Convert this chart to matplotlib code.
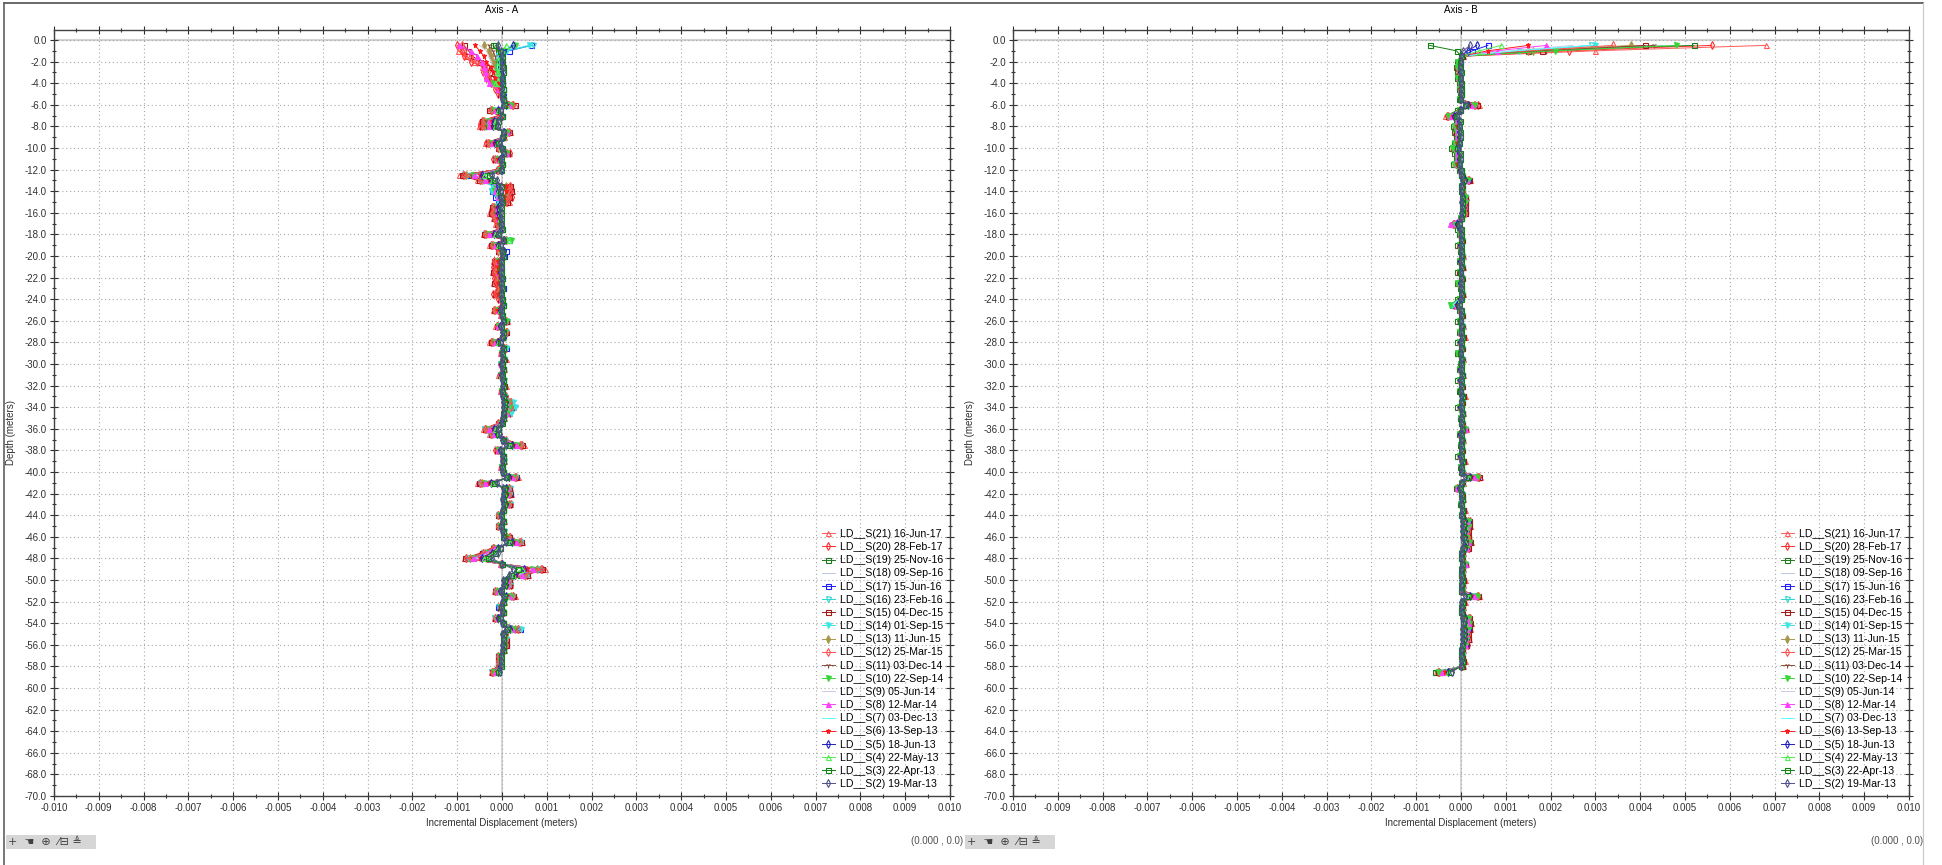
"""
Inclinometer incremental displacement profiles, Axis A and Axis B,
20 readings LD__S(2) .. LD__S(21). Output: out.png
"""
import matplotlib
matplotlib.use("Agg")
import matplotlib.pyplot as plt
import numpy as np
from matplotlib.lines import Line2D
from matplotlib.patches import Rectangle
from matplotlib.ticker import MultipleLocator, FuncFormatter

plt.rcParams["font.family"] = ["Liberation Sans", "DejaVu Sans"]

# probe readings every 0.5 m from -0.5 m to -58.5 m
DEPTH_STEP = 0.5
N_READINGS = 117
depth = -DEPTH_STEP * np.arange(1, N_READINGS + 1)

LABELS = [
    "LD__S(21) 16-Jun-17", "LD__S(20) 28-Feb-17", "LD__S(19) 25-Nov-16",
    "LD__S(18) 09-Sep-16", "LD__S(17) 15-Jun-16", "LD__S(16) 23-Feb-16",
    "LD__S(15) 04-Dec-15", "LD__S(14) 01-Sep-15", "LD__S(13) 11-Jun-15",
    "LD__S(12) 25-Mar-15", "LD__S(11) 03-Dec-14", "LD__S(10) 22-Sep-14",
    "LD__S(9) 05-Jun-14", "LD__S(8) 12-Mar-14", "LD__S(7) 03-Dec-13",
    "LD__S(6) 13-Sep-13", "LD__S(5) 18-Jun-13", "LD__S(4) 22-May-13",
    "LD__S(3) 22-Apr-13", "LD__S(2) 19-Mar-13",
]

# ---------- Axis A, displacement in 1e-5 m (hundredths of mm) ----------
A_S21 = [-95, -98, -80, -62, -45, -38, -30, -22, -10, -5,
         5, 30, -30, -8, -50, -52, 18, 5, -38, -10,
         15, -18, -5, -10, -95, -55, 20, 22, 18, 15,
         -25, -28, -20, -15, -5, -42, 5, -28, -10, 5,
         -20, -18, -22, -15, -20, -12, -18, -5, 0, -20,
         -5, 12, -15, 10, 0, -28, 5, -5, 8, -3,
         5, -8, 3, 8, -5, 5, 22, 25, 15, 5,
         -10, -42, -28, 5, 48, -12, 0, 5, -5, 3,
         35, -55, 18, 20, 5, 18, 0, -10, 5, -8,
         5, 15, 45, -22, -48, -85, -5, 95, 58, 18,
         18, -18, 28, 5, -5, 3, -18, 5, 38, 5,
         10, 8, 5, -10, -8, -12, -25]
A_S20 = [-100, -90, -85, -70, -40, -42, -35, -25, -15, -8,
         3, 25, -25, -5, -45, -48, 15, 3, -35, -8,
         18, -20, -3, -12, -88, -50, 18, 20, 22, 12,
         -22, -25, -18, -12, -8, -40, 8, -25, -8, 3,
         -18, -20, -20, -18, -15, -10, -20, -8, 3, -18,
         -3, 10, -12, 12, 3, -25, 8, -3, 5, -5,
         3, -5, 5, 5, -3, 8, 20, 22, 18, 3,
         -8, -38, -25, 8, 45, -15, 3, 3, -3, 5,
         32, -50, 15, 18, 3, 20, 3, -8, 3, -10,
         3, 18, 42, -20, -42, -80, -3, 90, 55, 15,
         20, -15, 25, 3, -8, 5, -15, 3, 35, 8,
         8, 10, 3, -8, -10, -10, -22]
A_S19 = [-20, -10, -5, -3, 0, 2, -2, 0, 3, 0,
         2, 15, -15, 0, -30, -35, 8, 0, -25, -3,
         8, -10, 0, -5, -70, -40, -15, -20, -10, -5,
         -15, -12, -10, -5, 0, -30, 15, -15, -3, 5,
         -5, -3, -5, 0, -3, 2, -5, 0, 3, -10,
         0, 8, -10, 5, 2, -15, 5, 0, 3, -2,
         2, -3, 2, 3, 0, 3, 12, 15, 8, 2,
         -3, -30, -20, 3, 30, -10, 2, 2, 0, 3,
         25, -40, 12, 10, 2, 12, 2, -5, 2, -5,
         2, 10, 30, -15, -35, -65, 0, 70, 40, 10,
         12, -10, 18, 2, -5, 3, -12, 2, 25, 5,
         5, 5, 2, -5, -5, -8, -20]
A_S18 = [40, 5, -10, -15, -20, -15, -10, -5, -3, 0,
         3, 20, -20, -3, -35, -30, 10, 2, -25, -5,
         10, -12, -2, -5, -75, -45, -20, -18, -12, -8,
         -15, -15, -12, -8, -3, -32, 12, -18, -5, 3,
         -8, -5, -8, -3, -5, 0, -8, -3, 2, -12,
         -2, 8, -8, 8, 2, -18, 5, -2, 5, -3,
         3, -3, 3, 3, -2, 3, 15, 18, 10, 3,
         -5, -35, -22, 5, 35, -8, 2, 3, -2, 2,
         28, -45, 12, 12, 3, 15, 2, -5, 3, -5,
         3, 12, 35, -15, -38, -72, -2, 78, 48, 12,
         12, -12, 20, 3, -5, 2, -12, 3, 30, 5,
         5, 5, 3, -5, -5, -8, -20]
A_S17 = [65, 15, 0, -5, -8, -5, -3, 0, 2, 3,
         3, 18, -22, 0, -35, -38, 12, 3, -28, -3,
         12, -12, 0, -5, -80, -45, -18, -22, -15, -10,
         -18, -20, -15, -10, -3, -35, 15, -20, 10, 5,
         -8, -8, -10, -3, -8, 2, -10, -2, 3, -12,
         -2, 10, -10, 8, 3, -18, 10, -3, 5, -3,
         3, -5, 3, 5, -2, 5, 15, 18, 12, 3,
         -5, -35, -25, 5, 38, -10, 3, 3, -3, 3,
         30, -48, 15, 15, 3, 15, 3, -8, 3, -8,
         3, 15, 38, -18, -40, -75, -2, 82, 50, 15,
         15, -12, 22, 3, -8, 3, -15, 3, 40, 5,
         8, 8, 3, -8, -8, -10, -22]
A_S16 = [70, 10, -5, -10, -12, -10, -5, -3, 0, 2,
         2, 15, -25, -3, -40, -35, 10, 2, -30, -5,
         10, -15, -2, -8, -85, -48, -22, -25, -12, -8,
         -20, -18, -12, -8, -5, -38, 12, -22, -5, 3,
         -10, -10, -8, -5, -10, 0, -8, -3, 2, -15,
         -3, 12, -8, 10, 2, -20, 8, -3, 5, -5,
         3, -5, 5, 5, -3, 5, 20, 28, 18, 5,
         -5, -40, -28, 5, 42, -12, 3, 5, -3, 3,
         32, -50, 18, 18, 3, 18, 3, -10, 3, -8,
         5, 15, 42, -20, -42, -78, -3, 85, 55, 18,
         18, -15, 25, 5, -8, 3, -18, 3, 35, 5,
         10, 8, 5, -8, -8, -10, -25]
A_S15 = [-85, -75, -65, -50, -35, -30, -25, -18, -10, -5,
         2, 28, -28, -5, -45, -45, 15, 3, -32, -8,
         12, -15, -3, -10, -90, -52, 18, 20, 15, 12,
         -22, -25, -18, -12, -5, -40, 5, -25, -8, 3,
         -18, -15, -20, -12, -18, -10, -15, -5, 0, -18,
         -3, 10, -12, 8, 0, -25, 5, -3, 5, -3,
         3, -5, 3, 5, -3, 5, 18, 20, 12, 3,
         -8, -38, -25, 5, 45, -12, 2, 3, -3, 3,
         32, -52, 15, 18, 3, 15, 2, -8, 3, -8,
         3, 15, 42, -20, -45, -82, -3, 90, 55, 15,
         15, -15, 25, 3, -5, 3, -15, 3, 35, 5,
         8, 8, 3, -8, -8, -10, -22]
A_S14 = [60, 8, -8, -12, -15, -10, -5, -3, 0, 2,
         2, 18, -20, -2, -35, -38, 12, 2, -28, -3,
         10, -12, 0, -5, -78, -45, -20, -22, -12, -8,
         -18, -15, -12, -8, -3, -35, 12, -20, -3, 3,
         -8, -8, -8, -3, -8, 0, -8, -2, 2, -12,
         -2, 10, -8, 8, 2, -18, 8, -2, 5, -3,
         3, -3, 3, 3, -2, 5, 25, 30, 20, 5,
         -5, -38, -25, 5, 40, -10, 2, 3, -2, 3,
         30, -48, 15, 15, 3, 15, 3, -8, 3, -5,
         3, 12, 40, -18, -40, -75, -2, 80, 52, 15,
         15, -12, 22, 3, -5, 3, -15, 3, 42, 5,
         8, 5, 3, -5, -5, -8, -20]
A_S13 = [-40, -30, -25, -20, -15, -10, -8, -5, -3, 0,
         2, 22, -22, -3, -40, -40, 12, 2, -30, -5,
         10, -12, -2, -8, -80, -45, 10, 12, 8, 5,
         -18, -20, -15, -10, -3, -35, 8, -20, -5, 3,
         -12, -10, -12, -8, -10, -5, -10, -3, 2, -15,
         -2, 8, -10, 8, 2, -20, 5, -3, 5, -3,
         3, -5, 3, 5, -2, 3, 15, 18, 10, 3,
         -5, -35, -22, 3, 40, -10, 2, 3, -2, 3,
         28, -45, 12, 15, 3, 15, 2, -8, 3, -8,
         3, 12, 38, -18, -38, -72, -2, 78, 48, 12,
         12, -12, 20, 3, -5, 3, -12, 3, 30, 5,
         5, 5, 3, -5, -5, -8, -20]
A_S12 = [-90, -85, -70, -55, -38, -32, -28, -20, -12, -5,
         3, 25, -25, -5, -42, -45, 15, 3, -32, -8,
         12, -15, -3, -10, -85, -50, 18, 18, 15, 10,
         -20, -22, -18, -12, -5, -38, 5, -22, -8, 3,
         -18, -15, -18, -12, -15, -8, -15, -5, 0, -18,
         -3, 10, -12, 8, 0, -22, 5, -3, 5, -3,
         3, -5, 3, 5, -3, 5, 18, 20, 12, 3,
         -8, -38, -25, 5, 42, -12, 2, 3, -3, 3,
         30, -50, 15, 15, 3, 15, 2, -8, 3, -8,
         3, 15, 40, -20, -42, -80, -3, 88, 52, 15,
         15, -15, 25, 3, -5, 3, -15, 3, 35, 5,
         8, 8, 3, -8, -8, -10, -22]
A_S11 = [-30, -20, -15, -12, -10, -8, -5, -3, 0, 2,
         2, 20, -20, -2, -35, -35, 10, 2, -25, -3,
         8, -10, 0, -5, -70, -40, 8, 10, 5, 3,
         -15, -15, -12, -8, -3, -30, 8, -18, -3, 3,
         -10, -8, -10, -5, -8, -3, -8, -2, 2, -12,
         -2, 8, -8, 5, 2, -18, 5, -2, 3, -2,
         2, -3, 2, 3, -2, 3, 12, 15, 8, 2,
         -3, -30, -20, 3, 35, -8, 2, 2, -2, 2,
         25, -40, 12, 12, 2, 12, 2, -5, 2, -5,
         2, 10, 35, -15, -35, -68, -2, 72, 45, 12,
         12, -10, 20, 2, -5, 2, -12, 2, 28, 3,
         5, 5, 2, -5, -5, -8, -18]
A_S10 = [30, 5, -5, -10, -12, -15, -8, -20, -5, 0,
         2, 18, -18, -2, -30, -32, 10, 2, -22, -3,
         8, -10, 0, -5, -65, -38, -15, -18, -10, -5,
         -12, -12, -10, -5, -3, -28, 20, -15, -3, 3,
         -8, -5, -8, -3, -5, 0, -5, -2, 2, -10,
         -2, 8, -8, 5, 2, -15, 5, -2, 3, -2,
         2, -3, 2, 3, -2, 3, 12, 15, 8, 2,
         -3, -28, -18, 3, 32, -8, 2, 2, -2, 2,
         22, -38, 10, 10, 2, 10, 2, -5, 2, -5,
         2, 10, 32, -12, -32, -62, -2, 68, 42, 10,
         10, -10, 18, 2, -3, 2, -10, 2, 25, 3,
         5, 5, 2, -5, -5, -5, -18]
A_S9 = [-50, -35, -30, -25, -20, -15, -10, -5, -3, 0,
        2, 15, -15, -2, -28, -30, 8, 2, -20, -3,
        8, -8, 0, -5, -60, -35, -10, -12, -8, -5,
        -12, -12, -10, -5, -2, -25, 5, -15, -3, 2,
        -8, -5, -8, -3, -5, -2, -5, -2, 2, -10,
        -2, 5, -8, 5, 2, -15, 3, -2, 3, -2,
        2, -3, 2, 3, -2, 3, 10, 12, 8, 2,
        -3, -25, -18, 3, 30, -8, 2, 2, -2, 2,
        22, -35, 10, 10, 2, 10, 2, -5, 2, -5,
        2, 8, 30, -12, -30, -60, -2, 65, 40, 10,
        10, -8, 15, 2, -3, 2, -10, 2, 22, 3,
        5, 3, 2, -3, -5, -5, -15]
A_S8 = [-95, -70, -55, -45, -40, -38, -35, -30, -10, -3,
        2, 15, -15, -2, -28, -30, 8, 2, -22, -3,
        8, -8, 0, -5, -62, -38, -12, -15, -8, -5,
        -12, -12, -10, -5, -2, -28, 5, -15, -3, 2,
        -8, -5, -8, -3, -5, -2, -5, -2, 2, -10,
        -2, 5, -8, 5, 2, -15, 3, -2, 3, -2,
        2, -3, 2, 3, -2, 3, 10, 12, 8, 2,
        -3, -28, -18, 3, 32, -8, 2, 2, -2, 2,
        22, -38, 10, 10, 2, 10, 2, -5, 2, -5,
        2, 10, 32, -15, -35, -65, -2, 70, 45, 10,
        10, -8, 15, 2, -3, 2, -10, 2, 22, 3,
        5, 3, 2, -3, -5, -5, -15]
A_S7 = [20, 5, -5, -8, -10, -8, -5, -3, 0, 0,
        2, 12, -12, -2, -22, -25, 8, 2, -18, -2,
        5, -8, 0, -3, -55, -30, -8, -10, -5, -3,
        -10, -10, -8, -5, -2, -22, 5, -12, -2, 2,
        -5, -5, -5, -2, -5, 0, -5, -2, 2, -8,
        -2, 5, -5, 3, 2, -12, 3, -2, 3, -2,
        2, -2, 2, 2, -2, 3, 12, 15, 10, 2,
        -2, -22, -15, 2, 28, -5, 2, 2, -2, 2,
        20, -32, 8, 8, 2, 8, 2, -3, 2, -3,
        2, 8, 28, -10, -28, -55, -2, 60, 38, 8,
        8, -8, 12, 2, -3, 2, -8, 2, 22, 3,
        3, 3, 2, -3, -3, -5, -12]
A_S6 = [-60, -50, -40, -35, -25, -20, -15, -10, -5, 0,
        2, 12, -12, -2, -22, -22, 5, 2, -18, -2,
        5, -8, 0, -3, -50, -28, 8, 10, 5, 3,
        -10, -10, -8, -5, -2, -20, 3, -12, -2, 2,
        -10, -8, -10, -5, -8, -3, -8, -2, 0, -10,
        -2, 5, -5, 3, 0, -12, 3, -2, 2, -2,
        2, -2, 2, 2, -2, 2, 8, 10, 5, 2,
        -2, -20, -12, 2, 25, -5, 2, 2, -2, 2,
        18, -28, 8, 8, 2, 8, 2, -3, 2, -3,
        2, 8, 25, -10, -25, -50, -2, 55, 32, 8,
        8, -5, 12, 2, -3, 2, -8, 2, 18, 3,
        3, 3, 2, -3, -3, -5, -12]
A_S5 = [25, 5, -3, -5, -5, -3, -2, 0, 0, 2,
        2, 10, -10, 0, -18, -20, 5, 2, -15, -2,
        5, -5, 0, -3, -45, -25, -8, -10, -5, -3,
        -8, -8, -5, -3, -2, -18, 5, -10, 5, 2,
        -3, -3, -5, -2, -3, 0, -3, 0, 2, -5,
        0, 5, -5, 3, 2, -10, 3, 0, 2, -2,
        2, -2, 2, 2, 0, 2, 8, 10, 5, 2,
        -2, -18, -12, 2, 22, -5, 2, 2, 0, 2,
        15, -25, 8, 8, 2, 8, 2, -3, 2, -3,
        2, 5, 22, -8, -22, -45, 0, 50, 30, 8,
        8, -5, 10, 2, -2, 2, -8, 2, 18, 2,
        3, 3, 2, -2, -3, -5, -10]
A_S4 = [10, 0, -3, -5, -5, -8, -3, -15, 0, 2,
        2, 8, -8, 0, -15, -15, 5, 2, -12, -2,
        3, -5, 0, -2, -40, -22, -5, -8, -3, -2,
        -5, -5, -5, -2, 0, -15, 15, -8, -2, 2,
        -3, -2, -3, -2, -3, 0, -3, 0, 2, -5,
        0, 3, -3, 2, 2, -8, 2, 0, 2, 0,
        2, -2, 2, 2, 0, 2, 5, 8, 5, 2,
        -2, -15, -10, 2, 18, -3, 2, 2, 0, 2,
        12, -22, 5, 5, 2, 5, 2, -2, 2, -2,
        2, 5, 18, -8, -20, -40, 0, 45, 25, 5,
        5, -5, 8, 2, -2, 2, -5, 2, 15, 2,
        3, 2, 2, -2, -2, -3, -10]
A_S3 = [-15, -5, 0, 0, 2, 2, 0, 0, 2, 0,
        2, 5, -5, 0, -10, -12, 3, 0, -8, 0,
        2, -3, 0, -2, -30, -18, -3, -5, -2, 0,
        -3, -3, -3, -2, 0, -10, 3, -5, 0, 2,
        -2, -2, -2, 0, -2, 0, -2, 0, 2, -3,
        0, 2, -2, 2, 0, -5, 2, 0, 2, 0,
        2, 0, 2, 2, 0, 2, 5, 5, 3, 2,
        0, -10, -8, 2, 15, -2, 2, 2, 0, 2,
        10, -18, 5, 5, 2, 5, 2, -2, 2, -2,
        2, 3, 15, -5, -15, -32, 0, 35, 20, 5,
        5, -3, 5, 2, -2, 2, -5, 2, 12, 2,
        2, 2, 2, -2, -2, -3, -8]
A_S2 = [-10, -3, 0, 0, 0, 2, 0, 0, 0, 0,
        0, 3, -3, 0, -8, -8, 2, 0, -5, 0,
        2, -2, 0, 0, -22, -12, -2, -3, -2, 0,
        -2, -2, -2, 0, 0, -8, 2, -3, 0, 0,
        -2, 0, -2, 0, -2, 0, -2, 0, 0, -2,
        0, 2, -2, 0, 0, -3, 0, 0, 0, 0,
        0, 0, 0, 0, 0, 0, 3, 3, 2, 0,
        0, -8, -5, 0, 10, -2, 0, 0, 0, 0,
        8, -12, 3, 3, 0, 3, 0, -2, 0, -2,
        0, 2, 10, -3, -10, -22, 0, 25, 15, 3,
        3, -2, 3, 0, -2, 0, -3, 0, 8, 0,
        2, 0, 0, -2, -2, -2, -5]

# ---------- Axis B, displacement in 1e-5 m ----------
B_S21 = [680, 300, 5, -8, -10, -5, -8, -3, -5, 0,
         -3, 40, -5, -35, -8, -15, -12, -10, -15, -20,
         -12, -10, -15, -3, 5, 20, 3, 5, 12, 10,
         8, 10, 0, -20, -5, -3, 3, -5, 0, 5,
         -3, 5, -5, 3, -8, 0, 5, -5, -18, -3,
         3, -5, 5, -3, 8, -5, 3, -8, 5, 0,
         -3, 5, -5, 3, -3, 8, 3, -5, 5, 0,
         3, 12, -3, 5, 0, 3, -5, 8, 0, 5,
         42, 5, -10, 3, 5, 0, 8, 3, 18, 20,
         15, 18, 22, 15, 5, 3, 12, 5, 3, 8,
         5, 3, 40, 8, 5, 3, 18, 22, 20, 15,
         18, 12, 5, 3, 8, 5, -55]
B_S20 = [560, 240, 3, -5, -8, -8, -5, -5, -3, -2,
         -2, 38, -3, -32, -10, -12, -15, -8, -12, -18,
         -10, -12, -12, -5, 3, 18, 5, 3, 10, 12,
         10, 8, 3, -18, -3, -5, 5, -3, 3, 3,
         -5, 3, -3, 5, -5, 3, 3, -3, -15, -5,
         5, -3, 3, -5, 5, -3, 5, -5, 3, 3,
         -5, 3, -3, 5, -5, 5, 5, -3, 3, 3,
         5, 10, -5, 3, 3, 5, -3, 5, 3, 3,
         40, 3, -8, 5, 3, 3, 5, 5, 20, 18,
         18, 15, 20, 18, 3, 5, 10, 3, 5, 5,
         3, 5, 38, 5, 3, 5, 20, 20, 18, 18,
         15, 15, 3, 5, 5, 3, -52]
B_S19 = [520, 150, 0, -10, -12, -8, -10, -5, -5, -3,
         -5, 30, -8, -30, -12, -18, -15, -12, -15, -22,
         -15, -12, -18, -5, 0, 15, 0, 3, 8, 8,
         5, 8, -3, -15, -8, -5, 0, -8, -3, 3,
         -5, 3, -8, 0, -8, -3, 3, -8, -20, -5,
         0, -8, 3, -5, 5, -8, 0, -10, 3, -3,
         -5, 3, -8, 0, -5, 5, 0, -8, 3, -3,
         0, 8, -5, 3, -3, 0, -8, 5, -3, 3,
         35, 3, -12, 0, 3, -3, 5, 0, 15, 18,
         12, 15, 18, 12, 3, 0, 8, 3, 0, 5,
         3, 0, 35, 5, 3, 0, 15, 18, 18, 12,
         15, 10, 3, 0, 5, 3, -58]
B_S18 = [450, 200, 3, -5, -8, -3, -5, -3, -3, 0,
         -3, 35, -5, -28, -8, -12, -12, -8, -10, -18,
         -10, -8, -12, -3, 3, 15, 3, 5, 10, 8,
         8, 8, 0, -15, -3, -3, 3, -5, 0, 3,
         -3, 3, -5, 3, -5, 0, 3, -5, -15, -3,
         3, -3, 3, -3, 5, -3, 3, -5, 3, 0,
         -3, 3, -3, 3, -3, 5, 3, -3, 3, 0,
         3, 10, -3, 3, 0, 3, -3, 5, 0, 3,
         38, 3, -8, 3, 3, 0, 5, 3, 15, 18,
         15, 15, 18, 15, 3, 3, 10, 3, 3, 5,
         3, 3, 35, 5, 3, 3, 15, 18, 15, 15,
         15, 10, 3, 3, 5, 3, -50]
B_S17 = [60, 25, 3, -3, -5, -3, -5, -3, 0, 0,
         -3, 30, -3, -25, -8, -10, -10, -8, -10, -15,
         -8, -8, -10, -3, 3, 15, 3, 3, 8, 8,
         5, 5, 0, -12, -3, -3, 3, -3, 0, 3,
         -3, 3, -3, 3, -3, 0, 3, -3, -12, -3,
         3, -3, 3, -3, 3, -3, 3, -5, 3, 0,
         -3, 3, -3, 3, -3, 3, 3, -3, 3, 0,
         3, 8, -3, 3, 0, 3, -3, 5, 0, 3,
         35, 3, -8, 3, 3, 0, 5, 3, 15, 15,
         12, 12, 15, 12, 3, 3, 8, 3, 3, 5,
         3, 3, 32, 5, 3, 3, 15, 15, 15, 12,
         12, 10, 3, 3, 3, 3, -45]
B_S16 = [290, 130, 0, -5, -8, -5, -5, -3, -3, 0,
         -3, 28, -5, -28, -10, -12, -12, -10, -12, -18,
         -10, -10, -12, -5, 0, 12, 0, 3, 8, 5,
         5, 5, -3, -15, -5, -3, 0, -5, -3, 3,
         -3, 0, -5, 0, -5, -3, 0, -5, -22, -3,
         0, -5, 3, -3, 3, -5, 0, -5, 3, -3,
         -3, 3, -5, 0, -3, 3, 0, -5, 3, -3,
         0, 8, -3, 3, -3, 0, -5, 3, -3, 3,
         32, 3, -10, 0, 3, -3, 3, 0, 12, 15,
         12, 12, 15, 12, 3, 0, 8, 3, 0, 3,
         3, 0, 30, 3, 3, 0, 12, 15, 15, 12,
         12, 8, 3, 0, 3, 3, -48]
B_S15 = [410, 180, 3, -5, -8, -5, -5, -3, -3, 0,
         -3, 35, -5, -30, -8, -12, -12, -10, -12, -18,
         -10, -10, -12, -3, 3, 18, 3, 3, 10, 10,
         8, 8, 0, -18, -3, -3, 3, -5, 0, 3,
         -3, 3, -5, 3, -5, 0, 3, -5, -15, -3,
         3, -3, 3, -3, 5, -3, 3, -5, 3, 0,
         -3, 3, -3, 3, -3, 5, 3, -3, 3, 0,
         3, 10, -3, 3, 0, 3, -3, 5, 0, 3,
         40, 3, -10, 3, 3, 0, 5, 3, 18, 18,
         15, 15, 20, 15, 3, 3, 10, 3, 3, 5,
         3, 3, 38, 5, 3, 3, 18, 20, 18, 15,
         15, 12, 3, 3, 5, 3, -52]
B_S14 = [300, 130, 0, -5, -5, -3, -5, -3, -3, 0,
         -3, 28, -3, -25, -8, -10, -10, -8, -10, -15,
         -8, -8, -10, -3, 3, 12, 3, 3, 8, 8,
         5, 5, 0, -12, -3, -3, 3, -3, 0, 3,
         -3, 3, -3, 3, -3, 0, 3, -3, -20, -3,
         3, -3, 3, -3, 3, -3, 3, -3, 3, 0,
         -3, 3, -3, 3, -3, 3, 3, -3, 3, 0,
         3, 8, -3, 3, 0, 3, -3, 3, 0, 3,
         35, 3, -8, 3, 3, 0, 3, 3, 15, 15,
         12, 12, 15, 12, 3, 3, 8, 3, 3, 3,
         3, 3, 32, 3, 3, 3, 15, 15, 12, 12,
         12, 8, 3, 3, 3, 3, -45]
B_S13 = [380, 160, 3, -5, -8, -5, -5, -3, -3, 0,
         -3, 30, -3, -28, -8, -12, -10, -8, -12, -15,
         -8, -10, -10, -3, 3, 15, 3, 3, 10, 8,
         5, 8, 0, -15, -3, -3, 3, -5, 0, 3,
         -3, 3, -3, 3, -5, 0, 3, -3, -12, -3,
         3, -3, 3, -3, 3, -3, 3, -5, 3, 0,
         -3, 3, -3, 3, -3, 3, 3, -3, 3, 0,
         3, 10, -3, 3, 0, 3, -3, 5, 0, 3,
         35, 3, -8, 3, 3, 0, 5, 3, 15, 15,
         12, 15, 18, 12, 3, 3, 8, 3, 3, 5,
         3, 3, 35, 5, 3, 3, 15, 18, 15, 12,
         12, 10, 3, 3, 3, 3, -48]
B_S12 = [340, 150, 3, -3, -5, -3, -5, -3, -3, 0,
         -3, 32, -3, -28, -8, -10, -10, -8, -10, -15,
         -8, -8, -10, -3, 3, 15, 3, 5, 10, 8,
         8, 8, 0, -15, -3, -3, 3, -3, 0, 3,
         -3, 3, -3, 3, -3, 0, 3, -3, -12, -3,
         3, -3, 3, -3, 5, -3, 3, -3, 3, 0,
         -3, 3, -3, 3, -3, 5, 3, -3, 3, 0,
         3, 10, -3, 3, 0, 3, -3, 5, 0, 3,
         38, 3, -8, 3, 3, 0, 5, 3, 15, 18,
         15, 15, 18, 15, 3, 3, 10, 3, 3, 5,
         3, 3, 38, 5, 3, 3, 18, 18, 15, 15,
         15, 10, 3, 3, 5, 3, -50]
B_S11 = [430, 190, 0, -5, -8, -5, -8, -3, -5, -3,
         -5, 25, -5, -25, -10, -12, -12, -10, -12, -18,
         -10, -10, -12, -5, 0, 12, 0, 3, 8, 5,
         5, 5, -3, -12, -5, -3, 0, -5, -3, 0,
         -5, 0, -5, 0, -5, -3, 0, -5, -12, -5,
         0, -5, 0, -5, 3, -5, 0, -5, 0, -3,
         -5, 0, -5, 0, -5, 3, 0, -5, 0, -3,
         0, 5, -5, 0, -3, 0, -5, 3, -3, 0,
         30, 0, -10, 0, 0, -3, 3, 0, 12, 12,
         10, 12, 15, 10, 0, 0, 5, 0, 0, 3,
         0, 0, 30, 3, 0, 0, 12, 15, 12, 10,
         10, 8, 0, 0, 3, 0, -45]
B_S10 = [480, 210, 0, -8, -10, -5, -8, -5, -5, -3,
         -5, 28, -5, -30, -10, -15, -12, -10, -15, -20,
         -12, -10, -15, -5, 0, 15, 0, 3, 8, 8,
         5, 5, -3, -15, -5, -5, 0, -5, -3, 0,
         -5, 0, -5, 0, -8, -3, 0, -5, -25, -5,
         0, -5, 0, -5, 3, -5, 0, -8, 0, -3,
         -5, 0, -5, 0, -5, 3, 0, -5, 0, -3,
         0, 8, -5, 0, -3, 0, -5, 3, -3, 0,
         35, 0, -10, 0, 0, -3, 3, 0, 15, 15,
         12, 12, 18, 12, 0, 0, 8, 0, 0, 3,
         0, 0, 35, 3, 0, 0, 15, 18, 15, 12,
         12, 10, 0, 0, 3, 0, -52]
B_S9 = [250, 110, 0, -3, -5, -3, -3, -3, -3, 0,
        -3, 22, -3, -22, -5, -10, -8, -8, -10, -12,
        -8, -8, -10, -3, 0, 10, 0, 3, 5, 5,
        5, 5, 0, -12, -3, -3, 0, -3, 0, 3,
        -3, 0, -3, 0, -3, 0, 0, -3, -10, -3,
        0, -3, 3, -3, 3, -3, 0, -3, 3, 0,
        -3, 3, -3, 0, -3, 3, 0, -3, 3, 0,
        0, 5, -3, 3, 0, 0, -3, 3, 0, 3,
        28, 3, -5, 0, 3, 0, 3, 0, 10, 12,
        10, 10, 12, 10, 3, 0, 5, 3, 0, 3,
        3, 0, 28, 3, 3, 0, 10, 12, 12, 10,
        10, 8, 3, 0, 3, 0, -40]
B_S8 = [190, 80, 0, -3, -5, -3, -5, -3, -3, 0,
        -3, 22, -3, -22, -8, -10, -10, -8, -10, -12,
        -8, -8, -10, -3, 0, 12, 0, 3, 5, 5,
        5, 5, 0, -25, -3, -3, 0, -3, 0, 3,
        -3, 0, -3, 0, -3, 0, 0, -3, -12, -3,
        0, -3, 3, -3, 3, -3, 0, -3, 3, 0,
        -3, 3, -3, 0, -3, 3, 0, -3, 3, 0,
        0, 8, -3, 3, 0, 0, -3, 3, 0, 3,
        30, 3, -8, 0, 3, 0, 3, 0, 12, 12,
        10, 10, 15, 12, 3, 0, 8, 3, 0, 3,
        3, 0, 30, 3, 3, 0, 12, 15, 12, 10,
        10, 8, 3, 0, 3, 0, -42]
B_S7 = [290, 120, 0, -3, -5, -3, -3, -3, -3, 0,
        -3, 20, -3, -20, -5, -8, -8, -5, -8, -12,
        -5, -5, -8, -3, 0, 10, 0, 3, 5, 5,
        3, 5, 0, -10, -3, -3, 0, -3, 0, 3,
        -3, 0, -3, 0, -3, 0, 0, -3, -18, -3,
        0, -3, 3, -3, 3, -3, 0, -3, 3, 0,
        -3, 3, -3, 0, -3, 3, 0, -3, 3, 0,
        0, 5, -3, 3, 0, 0, -3, 3, 0, 3,
        25, 3, -5, 0, 3, 0, 3, 0, 10, 10,
        8, 10, 12, 8, 3, 0, 5, 3, 0, 3,
        3, 0, 25, 3, 3, 0, 10, 12, 10, 8,
        8, 5, 3, 0, 3, 0, -38]
B_S6 = [150, 60, 0, -3, -3, -3, -3, 0, -3, 0,
        -3, 18, -3, -18, -5, -8, -5, -5, -8, -10,
        -5, -5, -8, -3, 0, 8, 0, 3, 5, 3,
        3, 3, 0, -10, -3, 0, 0, -3, 0, 3,
        -3, 0, -3, 0, -3, 0, 0, -3, -8, -3,
        0, -3, 3, 0, 3, -3, 0, -3, 3, 0,
        -3, 3, -3, 0, -3, 3, 0, -3, 3, 0,
        0, 5, -3, 3, 0, 0, -3, 3, 0, 3,
        22, 3, -5, 0, 3, 0, 3, 0, 8, 10,
        8, 8, 10, 8, 3, 0, 5, 3, 0, 3,
        3, 0, 22, 3, 3, 0, 8, 10, 10, 8,
        8, 5, 3, 0, 3, 0, -35]
B_S5 = [35, 15, 0, -3, -3, -3, -3, 0, 0, 0,
        -3, 15, -3, -15, -5, -5, -5, -5, -5, -10,
        -5, -5, -5, -3, 0, 8, 0, 3, 3, 3,
        3, 3, 0, -8, -3, 0, 0, -3, 0, 3,
        -3, 0, -3, 0, -3, 0, 0, -3, -8, 0,
        0, -3, 3, 0, 3, -3, 0, -3, 3, 0,
        -3, 3, -3, 0, -3, 3, 0, -3, 3, 0,
        0, 5, -3, 3, 0, 0, -3, 3, 0, 3,
        20, 3, -5, 0, 3, 0, 3, 0, 8, 8,
        8, 8, 10, 8, 3, 0, 5, 3, 0, 3,
        3, 0, 20, 3, 3, 0, 8, 8, 8, 8,
        8, 5, 3, 0, 3, 0, -30]
B_S4 = [90, 40, 0, -3, -3, 0, -3, 0, 0, 0,
        -3, 12, -3, -12, -3, -5, -5, -3, -5, -8,
        -3, -3, -5, 0, 0, 5, 0, 3, 3, 3,
        3, 3, 0, -5, 0, 0, 0, 0, 0, 3,
        0, 0, -3, 0, 0, 0, 0, -3, -5, 0,
        0, -3, 3, 0, 3, 0, 0, -3, 3, 0,
        0, 3, 0, 0, -3, 3, 0, 0, 3, 0,
        0, 3, 0, 3, 0, 0, 0, 3, 0, 3,
        18, 3, -3, 0, 3, 0, 3, 0, 5, 8,
        5, 5, 8, 5, 3, 0, 3, 3, 0, 3,
        3, 0, 18, 3, 3, 0, 5, 8, 5, 5,
        5, 3, 3, 0, 3, 0, -28]
B_S3 = [-70, -10, 0, -3, -3, 0, -3, 0, 0, 0,
        -3, 10, -3, -12, -3, -5, -3, -3, -5, -8,
        -3, -3, -5, 0, 0, 5, 0, 0, 3, 3,
        3, 3, 0, -5, 0, 0, 0, 0, 0, 0,
        0, 0, -3, 0, 0, 0, 0, 0, -5, 0,
        0, -3, 0, 0, 3, 0, 0, -3, 0, 0,
        0, 3, 0, 0, -3, 3, 0, 0, 3, 0,
        0, 3, 0, 0, 0, 0, 0, 3, 0, 0,
        15, 0, -3, 0, 3, 0, 3, 0, 5, 5,
        5, 5, 8, 5, 0, 0, 3, 0, 0, 3,
        0, 0, 15, 3, 0, 0, 5, 5, 5, 5,
        5, 3, 0, 0, 3, 0, -25]
B_S2 = [20, 5, 0, 0, -3, 0, 0, 0, 0, 0,
        0, 8, 0, -8, -3, -3, -3, 0, -3, -5,
        -3, 0, -3, 0, 0, 3, 0, 0, 3, 0,
        3, 0, 0, -3, 0, 0, 0, 0, 0, 0,
        0, 0, 0, 0, 0, 0, 0, 0, -3, 0,
        0, 0, 0, 0, 3, 0, 0, 0, 0, 0,
        0, 3, 0, 0, 0, 0, 0, 0, 3, 0,
        0, 3, 0, 0, 0, 0, 0, 0, 0, 0,
        10, 0, -3, 0, 0, 0, 3, 0, 3, 3,
        3, 3, 5, 3, 0, 0, 3, 0, 0, 0,
        0, 0, 10, 0, 0, 0, 3, 5, 3, 3,
        3, 3, 0, 0, 0, 0, -20]

AXIS_A = [A_S21, A_S20, A_S19, A_S18, A_S17, A_S16, A_S15, A_S14, A_S13, A_S12,
          A_S11, A_S10, A_S9, A_S8, A_S7, A_S6, A_S5, A_S4, A_S3, A_S2]
AXIS_B = [B_S21, B_S20, B_S19, B_S18, B_S17, B_S16, B_S15, B_S14, B_S13, B_S12,
          B_S11, B_S10, B_S9, B_S8, B_S7, B_S6, B_S5, B_S4, B_S3, B_S2]

# (colour, marker, filled) per reading, same order as LABELS
STYLES = [
    ("#ff5a5a", "^", False), ("#ff2d2d", "d", False), ("#1e7a1e", "s", False),
    ("#b8c8e0", "", False), ("#1c1cff", "s", False), ("#2cd4d4", "v", False),
    ("#a01818", "s", False), ("#3ce6e6", "v", True), ("#a8964a", "d", True),
    ("#ff5050", "d", False), ("#8a4a3a", "1", False), ("#36d636", "v", True),
    ("#d0c8ec", "", False), ("#ff40ff", "^", True), ("#60ffff", "", False),
    ("#ff1a1a", "*", True), ("#2020c0", "d", False), ("#50f050", "^", False),
    ("#108010", "s", False), ("#50508a", "d", False),
]

W, H = 1942, 865
fig = plt.figure(figsize=(W / 100, H / 100), dpi=100)
FS = 7


def fx(px):
    return px / W


def fy(py):
    return 1 - py / H


def draw_panel(ax, rows, title, left_px, right_px):
    ax.axhline(0, color="#d4d4d4", lw=1.6, zorder=1)
    ax.axvline(0, color="#cfcfcf", lw=1.2, zorder=1)
    for vals, lab, (col, mk, filled) in zip(rows, LABELS, STYLES):
        x = np.array(vals) * 1e-5
        ax.plot(x, depth, color=col, lw=0.7, marker=mk if mk else None,
                markersize=3.6, markeredgewidth=0.8,
                markerfacecolor=col if filled else "none",
                label=lab, zorder=3)
    ax.set_xlim(-0.010, 0.010)
    ax.set_ylim(-70, 0.926)
    ax.xaxis.set_major_locator(MultipleLocator(0.001))
    ax.xaxis.set_minor_locator(MultipleLocator(0.0005))
    ax.yaxis.set_major_locator(MultipleLocator(2.0))
    ax.yaxis.set_minor_locator(MultipleLocator(1.0))
    ax.xaxis.set_major_formatter(FuncFormatter(lambda v, p: f"{round(v, 3) + 0.0:.3f}"))
    ax.yaxis.set_major_formatter(FuncFormatter(lambda v, p: f"{round(v, 1) + 0.0:.1f}"))
    ax.tick_params(which="both", direction="inout", top=True, right=True,
                   labelsize=FS, colors="#303030", width=0.8)
    ax.tick_params(which="major", length=6, pad=2)
    ax.tick_params(which="minor", length=3)
    ax.grid(which="major", color="#a8a8a8", linestyle=(0, (1, 2.5)), lw=0.8, zorder=0)
    for s in ax.spines.values():
        s.set_color("#404040")
        s.set_linewidth(1.0)
    ax.legend(loc="lower right", bbox_to_anchor=(0.992, 0.009), frameon=False,
              fontsize=7.6, handlelength=1.3, handletextpad=0.4, labelspacing=0.3,
              borderpad=0, borderaxespad=0)
    mid = (left_px + right_px) / 2
    fig.text(fx(mid), fy(10), title, ha="center", va="center", fontsize=FS)
    fig.text(fx(mid), fy(823), "Incremental Displacement (meters)",
             ha="center", va="center", fontsize=FS, color="#303030")
    fig.text(fx(left_px - 43), 0.5, "Depth (meters)", rotation=90,
             ha="center", va="center", fontsize=FS, color="#303030")


ax_a = fig.add_axes([fx(54), fy(796), fx(896), 766 / H])
ax_b = fig.add_axes([fx(1013), fy(796), fx(896), 766 / H])
draw_panel(ax_a, AXIS_A, "Axis - A", 54, 950)
draw_panel(ax_b, AXIS_B, "Axis - B", 1013, 1909)

# status text and toolbars under each panel
for coord_right in [963, 1923]:
    fig.text(fx(coord_right), fy(841), "(0.000 , 0.0)", ha="right", va="center",
             fontsize=FS, color="#505050")
for tb_left in [6, 965]:
    fig.add_artist(Rectangle((fx(tb_left), fy(849)), fx(90), 14 / H,
                             transform=fig.transFigure, facecolor="#d6d6d6",
                             edgecolor="none"))
    fig.text(fx(tb_left + 2), fy(842), "+  \u261a  \u2295  \u2044\u229f \u225c",
             ha="left", va="center", fontsize=8, color="#404040",
             family=["DejaVu Sans"])

# window frame
fig.add_artist(Line2D([fx(4), fx(1923)], [fy(3), fy(3)], transform=fig.transFigure,
                      color="#505050", lw=1.2))
fig.add_artist(Line2D([fx(4), fx(4)], [fy(3), 0], transform=fig.transFigure,
                      color="#606060", lw=1.2))
fig.add_artist(Line2D([fx(1923), fx(1923)], [fy(3), 0], transform=fig.transFigure,
                      color="#c8c8c8", lw=0.8))

fig.savefig("out.png", dpi=100)
